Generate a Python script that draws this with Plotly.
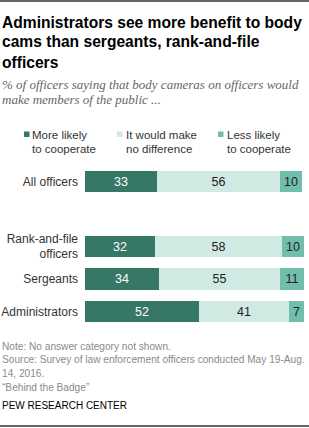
import plotly.graph_objects as go

categories = ["All officers", "Rank-and-file<br>officers", "Sergeants", "Administrators"]
positions = [0, 2, 3, 4]
more_likely = [33, 32, 34, 52]
no_difference = [56, 58, 55, 41]
less_likely = [10, 10, 11, 7]
series_names = ["More likely<br>to cooperate", "It would make<br>no difference", "Less likely<br>to cooperate"]
colors = ["#377766", "#d0e9e3", "#72bead"]
text_colors = ["#ffffff", "#222222", "#222222"]

W, H = 309, 428
L, R, T, B = 85, 5, 165, 100
PW, PH = W - L - R, H - T - B

def px(x):
    return (x - L) / PW

def py(y):
    return 1 - (y - T) / PH

SANS = "Liberation Sans, Arial, sans-serif"

fig = go.Figure()
for name, vals, c, tc in zip(series_names, [more_likely, no_difference, less_likely], colors, text_colors):
    fig.add_trace(go.Bar(
        x=vals, y=positions, orientation="h", name=name,
        marker=dict(color=c, line=dict(width=0)), width=0.66,
        text=[str(v) for v in vals], textposition="inside", insidetextanchor="middle",
        textangle=0, constraintext="none",
        textfont=dict(color=tc, size=12.5, family=SANS),
        hoverinfo="skip", showlegend=False,
    ))

ann = []
def add_text(text, x, y, size, color, family=SANS):
    ann.append(dict(text=text, xref="paper", yref="paper", x=px(x), y=py(y), xanchor="left", yanchor="middle",
                    font=dict(size=size, color=color, family=family), showarrow=False, borderpad=0))

# Title
title_lines = ["Administrators see more benefit to body", "cams than sergeants, rank-and-file", "officers"]
for i, line in enumerate(title_lines):
    add_text("<b>" + line + "</b>", 1, 22 + 20 * i, 15.6, "#000000")
sub_lines = ["% of officers saying that body cameras on officers would", "make members of the public ..."]
for i, line in enumerate(sub_lines):
    add_text("<i>" + line + "</i>", 1, 85 + 14 * i, 13, "#666666", "Liberation Serif, Georgia, serif")
# Legend
leg_sq = [24, 117, 218]
leg_tx = [31, 125, 226]
shapes = []
for sx, tx, name, c in zip(leg_sq, leg_tx, series_names, colors):
    shapes.append(dict(type="rect", xref="paper", yref="paper", x0=px(sx), x1=px(sx + 5.5), y0=py(137), y1=py(131.5),
                       fillcolor=c, line=dict(width=0)))
    l1, l2 = name.split("<br>")
    add_text(l1, tx, 135, 11.5, "#333333")
    add_text(l2, tx, 149, 11.5, "#333333")
# Notes
notes = ["Note: No answer category not shown.",
         "Source: Survey of law enforcement officers conducted May 19-Aug.",
         "14, 2016.",
         "\u201cBehind the Badge\u201d"]
for i, line in enumerate(notes):
    add_text(line, 1, 346 + 13.7 * i, 10.15, "#8a8a8a")
add_text("PEW RESEARCH CENTER", 1, 405, 10, "#000000")

shapes.append(dict(type="line", xref="paper", yref="paper", x0=px(0), x1=px(309), y0=py(1), y1=py(1),
                   line=dict(color="#333333", width=1.5)))
shapes.append(dict(type="line", xref="paper", yref="paper", x0=px(0), x1=px(309), y0=py(426), y1=py(426),
                   line=dict(color="#333333", width=1.5)))

fig.update_layout(
    width=W, height=H, margin=dict(l=L, r=R, t=T, b=B, pad=0, autoexpand=False),
    barmode="stack", bargap=0,
    plot_bgcolor="#ffffff", paper_bgcolor="#ffffff",
    xaxis=dict(range=[0, 100], visible=False, fixedrange=True, automargin=False),
    yaxis=dict(range=[4.5, -0.5], tickvals=positions, ticktext=categories, showgrid=False,
               zeroline=False, showline=False, ticks="", ticklabelstandoff=6, automargin=False,
               tickfont=dict(size=12, color="#333333", family=SANS), fixedrange=True),
    annotations=ann, shapes=shapes, showlegend=False,
)

fig.write_html("out.html", config={"displayModeBar": False})
